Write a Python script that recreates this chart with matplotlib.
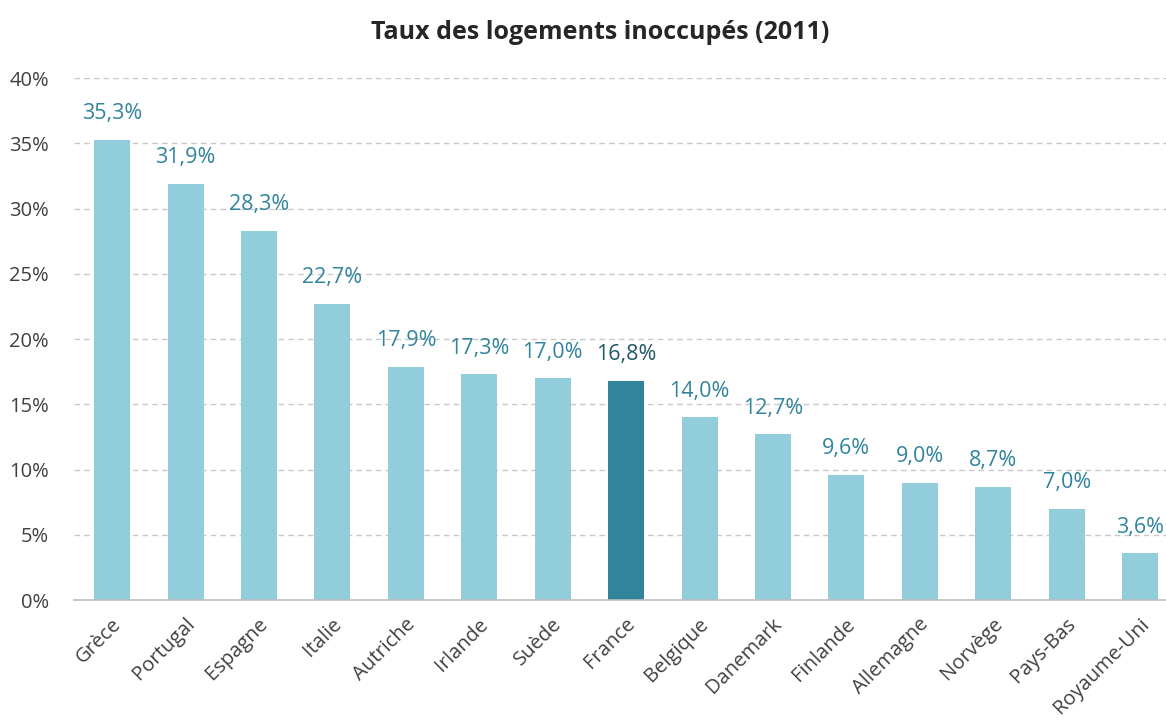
import matplotlib.pyplot as plt
import matplotlib.transforms as mtransforms
from matplotlib.ticker import FuncFormatter

pays = ["Grèce", "Portugal", "Espagne", "Italie", "Autriche", "Irlande", "Suède",
        "France", "Belgique", "Danemark", "Finlande", "Allemagne", "Norvège",
        "Pays-Bas", "Royaume-Uni"]
taux = [35.3, 31.9, 28.3, 22.7, 17.9, 17.3, 17.0, 16.8, 14.0, 12.7, 9.6, 9.0, 8.7, 7.0, 3.6]
yticks = [0, 5, 10, 15, 20, 25, 30, 35, 40]

plt.rcParams['font.family'] = ['Open Sans', 'DejaVu Sans']

clair = "#92CDDC"
fonce = "#31849B"

fig = plt.figure(figsize=(11.66, 7.24), dpi=100)
# la zone de trace depasse a droite : l'image d'origine est rognee
ax = fig.add_axes([0.0635, 0.171, 0.947, 0.721])

couleurs = [fonce if p == "France" else clair for p in pays]
x = range(len(pays))
ax.bar(x, taux, width=0.49, color=couleurs, zorder=2)

for i, v in enumerate(taux):
    c = "#215968" if pays[i] == "France" else "#31849B"
    ax.text(i, v + 1.2, f"{v:.1f}%".replace(".", ","), ha="center", va="bottom",
            fontsize=15.5, color=c)

ax.set_ylim(0, 40)
ax.set_xlim(-0.52, 14.52)
ax.set_yticks(yticks)
ax.yaxis.set_major_formatter(FuncFormatter(lambda v, p: f"{int(v)}%"))
ax.yaxis.grid(True, linestyle=(0, (4, 3)), color="#C8C8C8", linewidth=1, zorder=0)
ax.set_axisbelow(True)

# etiquettes de l'axe x
ax.set_xticks(list(x))
ax.set_xticklabels([])
decal = ax.get_xaxis_transform() + mtransforms.ScaledTranslation(-0.01, -0.14, fig.dpi_scale_trans)
for i, p in enumerate(pays):
    ax.text(i, 0, p, transform=decal, rotation=45, ha="right", va="top",
            rotation_mode="anchor", fontsize=14.5, color="#404040")

for s in ["top", "right", "left"]:
    ax.spines[s].set_visible(False)
ax.spines["bottom"].set_color("#BFBFBF")
ax.spines["bottom"].set_linewidth(1.2)
ax.tick_params(axis="y", length=0, labelsize=14.5, labelcolor="#404040", pad=18)
ax.tick_params(axis="x", length=0)

fig.text(0.515, 0.955, "Taux des logements inoccupés (2011)", ha="center", va="center",
         fontsize=18, fontweight="bold", color="#262626")

fig.savefig("out.png", dpi=100)
